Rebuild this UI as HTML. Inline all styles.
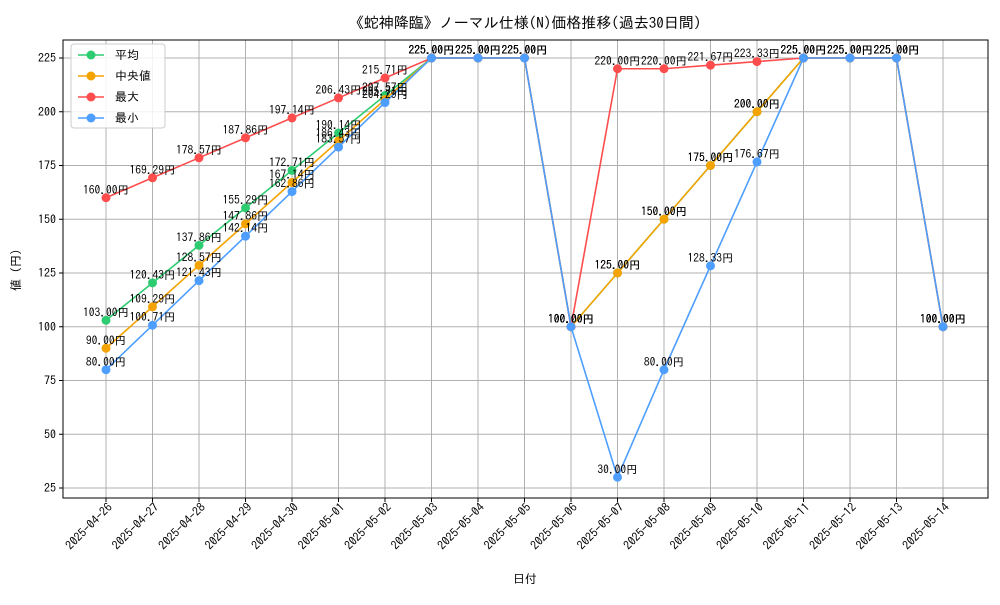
<!DOCTYPE html>
<html><head><meta charset="utf-8"><style>
body{margin:0;background:#fff}
svg text{font-family:"IPAGothic","Noto Sans CJK JP",sans-serif}
</style></head><body>
<svg id="c" width="1000" height="600" xmlns="http://www.w3.org/2000/svg">
<rect width="1000" height="600" fill="#fff"/>
<text x="525" y="28" text-anchor="middle" font-size="15">《蛇神降臨》ノーマル仕様(N)価格推移(過去30日間)</text>
<g id="grid"></g><g id="axes"></g><g id="series"></g>
<text x="525" y="583" text-anchor="middle" font-size="12">日付</text>
<text transform="translate(20,270) rotate(-90)" text-anchor="middle" font-size="12">値 (円)</text>
<g id="legend"></g>
</svg>
<script>
const dates=["2025-04-26","2025-04-27","2025-04-28","2025-04-29","2025-04-30","2025-05-01","2025-05-02","2025-05-03","2025-05-04","2025-05-05","2025-05-06","2025-05-07","2025-05-08","2025-05-09","2025-05-10","2025-05-11","2025-05-12","2025-05-13","2025-05-14"];
const avgVals=[103,120.43,137.86,155.29,172.71,190.14,207.57,225,225,225,100,125,150,175,200,225,225,225,100];
const medVals=[90,109.29,128.57,147.86,167.14,186.43,205.71,225,225,225,100,125,150,175,200,225,225,225,100];
const maxVals=[160,169.29,178.57,187.86,197.14,206.43,215.71,225,225,225,100,220,220,221.67,223.33,225,225,225,100];
const minVals=[80,100.71,121.43,142.14,162.86,183.57,204.29,225,225,225,100,30,80,128.33,176.67,225,225,225,100];
const yTicks=[25,50,75,100,125,150,175,200,225];
const seriesNames=["平均","中央値","最大","最小"];
const NS="http://www.w3.org/2000/svg";
const L=63,R=988,T=40,B=498;
const x=i=>106+i*(943-106)/(dates.length-1);
const y=v=>488-(v-25)*(488-58)/200;
function mk(tag,a,p){const e=document.createElementNS(NS,tag);for(const k in a)e.setAttribute(k,a[k]);p.appendChild(e);return e;}
const grid=document.getElementById('grid'),axes=document.getElementById('axes'),ser=document.getElementById('series'),leg=document.getElementById('legend');
yTicks.forEach(t=>{
 const g=mk('line',{x1:L,x2:R,y1:y(t),y2:y(t),stroke:'#b0b0b0','stroke-width':1},grid);
 
 
 mk('line',{x1:L-4,x2:L,y1:y(t),y2:y(t),stroke:'#000'},axes);
 const tx=mk('text',{x:L-7,y:y(t)+4,'text-anchor':'end','font-size':12},axes);tx.textContent=t;
 
 
});
dates.forEach((d,i)=>{
 const g=mk('line',{x1:x(i),x2:x(i),y1:T,y2:B,stroke:'#b0b0b0','stroke-width':1},grid);
 
 
 mk('line',{x1:x(i),x2:x(i),y1:B,y2:B+4,stroke:'#000'},axes);
 const tx=mk('text',{transform:`translate(${x(i)+7},${B+10}) rotate(-45)`,'text-anchor':'end','font-size':12},axes);tx.textContent=d;
 
 
});
const fr=mk('rect',{x:L,y:T,width:R-L,height:B-T,fill:'none',stroke:'#000','stroke-width':1},axes);


const all=[[avgVals,'#2ecc71','avg'],[medVals,'#f5a300','median'],[maxVals,'#ff4d4d','max'],[minVals,'#4d9eff','min']];
all.forEach(([vals,col,nm])=>{
 const p=mk('polyline',{points:vals.map((v,i)=>x(i)+','+y(v)).join(' '),fill:'none',stroke:col,'stroke-width':1.6},ser);
 
 
 vals.forEach((v,i)=>{
  const c=mk('circle',{cx:x(i),cy:y(v),r:4.5,fill:col},ser);
  
  
 });
});
all.forEach(([vals,col,nm])=>{
 vals.forEach((v,i)=>{
  const t=mk('text',{x:x(i),y:y(v)-4,'text-anchor':'middle','font-size':11.5},ser);
  t.textContent=v.toFixed(2)+'円';
  
  
 });
});
const lb=mk('rect',{x:71,y:44,width:94,height:84,rx:3,fill:'#fff','fill-opacity':0.85,stroke:'#ccc'},leg);


all.forEach(([v,col,nm],k)=>{
 const yy=55+k*21;
 const g=mk('g',{},leg);
 
 
 mk('line',{x1:78,x2:104,y1:yy,y2:yy,stroke:col,'stroke-width':1.6},g);
 mk('circle',{cx:91,cy:yy,r:4.5,fill:col},g);
 const t=mk('text',{x:115,y:yy+4,'font-size':12},g);t.textContent=seriesNames[k];
});
</script>
</body></html>
